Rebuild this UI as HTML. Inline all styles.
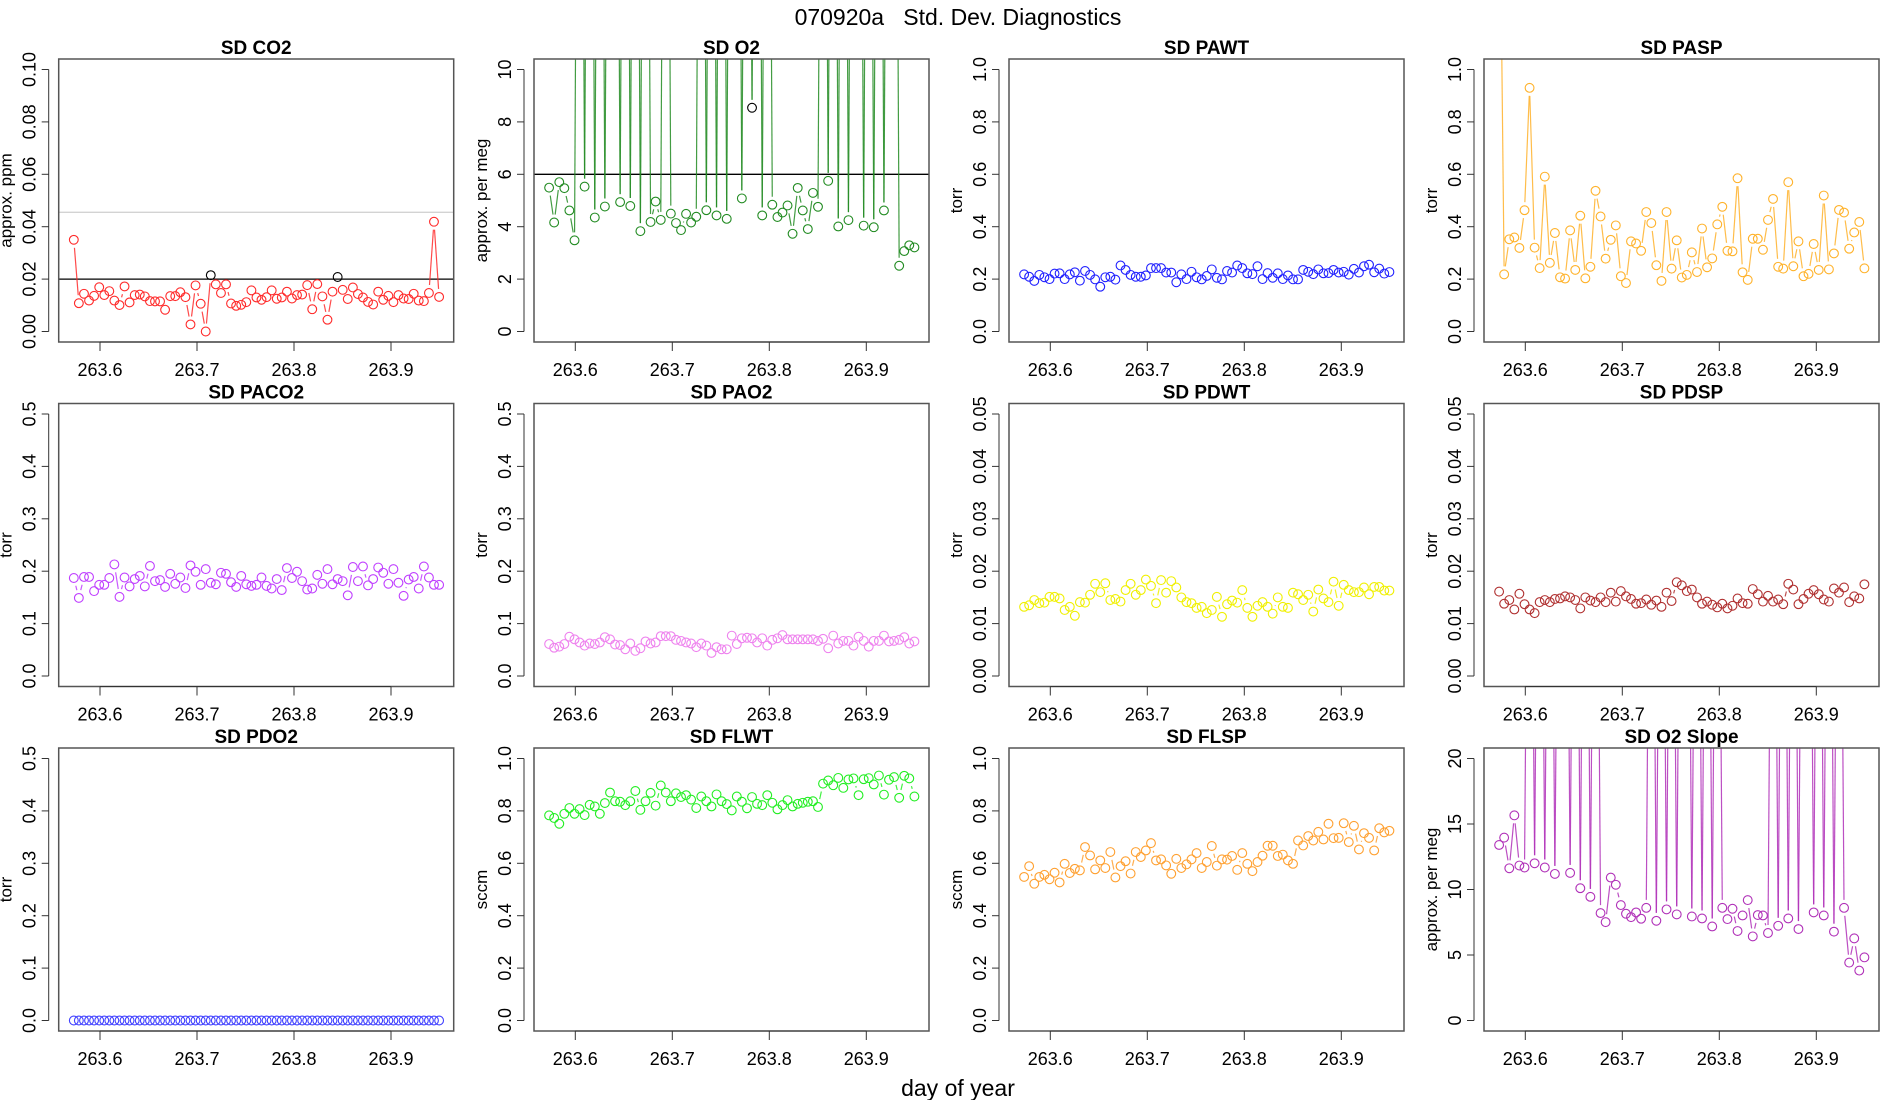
<!DOCTYPE html>
<html><head><meta charset="utf-8"><title>070920a Std. Dev. Diagnostics</title>
<style>
html,body{margin:0;padding:0;background:#fff;}
svg{display:block;font-family:"Liberation Sans",sans-serif;}
</style></head>
<body>
<svg id="chart" width="1900" height="1100" viewBox="0 0 1900 1100" xmlns="http://www.w3.org/2000/svg">
<text x="958" y="25" text-anchor="middle" font-size="23" style="white-space:pre">070920a   Std. Dev. Diagnostics</text>
<text x="958" y="1096" text-anchor="middle" font-size="23">day of year</text>
</svg>
<script>
const times=[263.5730,263.5782,263.5835,263.5887,263.5939,263.5992,263.6044,263.6096,263.6148,263.6201,263.6253,263.6305,263.6358,263.6410,263.6462,263.6515,263.6567,263.6619,263.6671,263.6724,263.6776,263.6828,263.6881,263.6933,263.6985,263.7038,263.7090,263.7142,263.7194,263.7247,263.7299,263.7351,263.7404,263.7456,263.7508,263.7561,263.7613,263.7665,263.7717,263.7770,263.7822,263.7874,263.7927,263.7979,263.8031,263.8084,263.8136,263.8188,263.8240,263.8293,263.8345,263.8397,263.8450,263.8502,263.8554,263.8607,263.8659,263.8711,263.8763,263.8816,263.8868,263.8920,263.8973,263.9025,263.9077,263.9130,263.9182,263.9234,263.9286,263.9339,263.9391,263.9443,263.9496];
const xTicks=[263.6,263.7,263.8,263.9];
const xTickLabels=["263.6","263.7","263.8","263.9"];
const sdCO2=[0.035,0.0108,0.0144,0.0118,0.0136,0.0169,0.0139,0.0154,0.0118,0.0101,0.0172,0.0111,0.0139,0.0141,0.0134,0.0116,0.0115,0.0115,0.0083,0.0135,0.0135,0.015,0.0131,0.0027,0.0176,0.0106,0.0,0.0215,0.018,0.0147,0.018,0.0107,0.0098,0.0102,0.0112,0.0157,0.013,0.0121,0.0131,0.0157,0.0125,0.013,0.0152,0.0126,0.0139,0.0141,0.0177,0.0085,0.0181,0.0134,0.0045,0.0152,0.0208,0.0159,0.0124,0.0168,0.0143,0.013,0.0113,0.0103,0.0152,0.0121,0.0136,0.0112,0.0139,0.0126,0.0124,0.0144,0.0118,0.0116,0.0147,0.0419,0.0132];
const flagCO2=[27,52];
const sdO2=[5.49,4.16,5.70,5.47,4.62,3.48,40,5.53,40,4.35,40,4.77,40,40,4.94,40,4.79,40,3.83,40,4.18,4.96,4.26,40,4.5,4.14,3.87,4.49,4.16,4.38,40,4.63,40,4.43,40,4.3,40,40,5.08,40,8.54,40,4.43,40,4.84,4.37,4.54,4.81,3.73,5.48,4.62,3.91,5.29,4.76,40,5.75,40,4.01,40,4.25,40,40,4.04,40,3.98,40,4.62,40,40,2.51,3.07,3.29,3.21];
const flagO2=[40];
const sdPAWT=[.218,.209,.193,.216,.207,.200,.221,.222,.200,.218,.226,.194,.231,.216,.199,.171,.207,.209,.198,.252,.235,.216,.209,.209,.214,.242,.242,.242,.225,.225,.188,.218,.200,.228,.207,.199,.212,.237,.205,.199,.231,.225,.252,.242,.222,.219,.249,.200,.223,.205,.222,.200,.214,.199,.199,.235,.228,.219,.237,.222,.223,.235,.225,.228,.217,.239,.225,.249,.255,.226,.240,.221,.227];
const sdPASP=[2,0.218,0.352,0.359,0.319,0.463,0.93,0.32,0.242,0.591,0.262,0.376,0.207,0.202,0.386,0.235,0.442,0.203,0.247,0.537,0.439,0.278,0.35,0.405,0.211,0.185,0.344,0.336,0.308,0.456,0.414,0.253,0.193,0.456,0.24,0.348,0.206,0.216,0.302,0.227,0.393,0.245,0.279,0.409,0.476,0.308,0.306,0.585,0.226,0.197,0.354,0.354,0.312,0.426,0.506,0.247,0.24,0.57,0.249,0.344,0.211,0.22,0.334,0.235,0.519,0.237,0.298,0.464,0.454,0.316,0.378,0.418,0.241];
const sdPACO2=[.187,.149,.189,.189,.162,.174,.174,.187,.213,.151,.188,.171,.185,.191,.171,.210,.181,.183,.170,.195,.176,.188,.168,.211,.199,.174,.204,.178,.175,.197,.195,.179,.170,.191,.175,.172,.174,.188,.172,.167,.185,.164,.206,.187,.199,.181,.165,.167,.193,.176,.204,.175,.185,.181,.154,.208,.181,.209,.173,.185,.207,.197,.176,.204,.178,.153,.184,.189,.167,.209,.188,.174,.174];
const sdPAO2=[.061,.054,.056,.061,.075,.070,.064,.058,.062,.061,.064,.074,.070,.060,.059,.051,.062,.048,.053,.066,.062,.064,.076,.076,.076,.069,.067,.064,.062,.055,.062,.058,.044,.055,.051,.051,.077,.061,.072,.073,.072,.064,.072,.058,.069,.072,.078,.070,.070,.070,.070,.070,.070,.067,.071,.053,.077,.062,.067,.067,.058,.075,.067,.056,.067,.067,.077,.066,.067,.069,.074,.062,.066];
const sdPDWT=[.0132,.0135,.0145,.0139,.0140,.0151,.0151,.0148,.0126,.0132,.0115,.0141,.0140,.0155,.0176,.0160,.0177,.0145,.0147,.0142,.0164,.0176,.0155,.0164,.0184,.0172,.0139,.0183,.0159,.0181,.0169,.0150,.0141,.0139,.0130,.0132,.0120,.0126,.0151,.0113,.0137,.0144,.0140,.0164,.0130,.0113,.0134,.0141,.0132,.0119,.0150,.0132,.0130,.0159,.0156,.0145,.0155,.0123,.0165,.0148,.0141,.0180,.0134,.0174,.0164,.0160,.0160,.0169,.0156,.0170,.0170,.0163,.0163];
const sdPDSP=[.0161,.0138,.0145,.0127,.0157,.0137,.0127,.0120,.0141,.0145,.0141,.0147,.0148,.0152,.0150,.0145,.0129,.0150,.0144,.0141,.0150,.0141,.0159,.0142,.0162,.0152,.0147,.0138,.0139,.0146,.0136,.0144,.0132,.0159,.0143,.0179,.0173,.0162,.0165,.0150,.0138,.0142,.0136,.0131,.0138,.0129,.0134,.0148,.0139,.0138,.0166,.0156,.0142,.0153,.0142,.0146,.0137,.0176,.0165,.0137,.0147,.0157,.0164,.0156,.0146,.0142,.0167,.0159,.0169,.0141,.0152,.0148,.0175];
const sdPDO2=[0,0,0,0,0,0,0,0,0,0,0,0,0,0,0,0,0,0,0,0,0,0,0,0,0,0,0,0,0,0,0,0,0,0,0,0,0,0,0,0,0,0,0,0,0,0,0,0,0,0,0,0,0,0,0,0,0,0,0,0,0,0,0,0,0,0,0,0,0,0,0,0,0];
const sdFLWT=[.783,.773,.751,.789,.811,.789,.807,.784,.823,.817,.789,.830,.870,.837,.835,.822,.837,.876,.804,.837,.869,.820,.897,.870,.837,.867,.853,.860,.843,.811,.855,.837,.817,.863,.837,.826,.802,.855,.835,.810,.853,.827,.822,.860,.831,.806,.822,.841,.817,.827,.831,.835,.837,.815,.904,.916,.898,.926,.888,.920,.924,.860,.921,.925,.901,.935,.862,.919,.929,.850,.934,.924,.855];
const sdFLSP=[.548,.589,.522,.548,.556,.539,.564,.527,.598,.563,.579,.573,.662,.630,.577,.611,.582,.643,.546,.589,.608,.561,.643,.624,.649,.677,.611,.615,.592,.560,.617,.582,.596,.615,.639,.582,.605,.666,.591,.615,.614,.628,.575,.639,.598,.570,.605,.629,.667,.667,.628,.633,.611,.598,.687,.668,.704,.687,.720,.691,.751,.696,.697,.753,.681,.743,.653,.715,.697,.649,.734,.718,.724];
const sdO2Slope=[13.4,13.96,11.62,15.66,11.83,11.68,60,12.0,60,11.68,60,11.19,60,60,11.27,60,10.1,60,9.44,60,8.2,7.51,10.91,10.36,8.81,8.15,7.89,8.25,7.77,8.6,60,7.61,60,8.48,60,8.1,60,60,7.94,60,7.79,60,7.18,60,8.6,7.74,8.53,6.83,8.02,9.19,6.42,8.05,8.02,6.68,60,7.23,60,7.79,60,6.98,60,60,8.25,60,8.02,60,6.78,60,8.6,4.42,6.27,3.81,4.82];

const svg=document.getElementById('chart');
const NS='http://www.w3.org/2000/svg';
function mk(tag,attrs,parent){const e=document.createElementNS(NS,tag);for(const k in attrs)e.setAttribute(k,attrs[k]);(parent||svg).appendChild(e);return e;}

const colLeft=[58.7,534,1009,1484], rowTop=[59,403.5,748], PW=395, PH=283;
const panels=[
 {title:'SD CO2',ylab:'approx. ppm',data:sdCO2,col:'#ff2a2a',ymax:0.1,ticks:[0,0.02,0.04,0.06,0.08,0.1],dec:2,hl:[[0.0455,'#d3d3d3'],[0.02,'#000']],flags:flagCO2},
 {title:'SD O2',ylab:'approx. per meg',data:sdO2,col:'#228b22',ymax:10,ticks:[0,2,4,6,8,10],dec:0,hl:[[6,'#000']],flags:flagO2},
 {title:'SD PAWT',ylab:'torr',data:sdPAWT,col:'#2020ff',ymax:1,ticks:[0,0.2,0.4,0.6,0.8,1],dec:1,hl:[],flags:[]},
 {title:'SD PASP',ylab:'torr',data:sdPASP,col:'#ffb22a',ymax:1,ticks:[0,0.2,0.4,0.6,0.8,1],dec:1,hl:[],flags:[]},
 {title:'SD PACO2',ylab:'torr',data:sdPACO2,col:'#bf3eff',ymax:0.5,ticks:[0,0.1,0.2,0.3,0.4,0.5],dec:1,hl:[],flags:[]},
 {title:'SD PAO2',ylab:'torr',data:sdPAO2,col:'#ee82ee',ymax:0.5,ticks:[0,0.1,0.2,0.3,0.4,0.5],dec:1,hl:[],flags:[]},
 {title:'SD PDWT',ylab:'torr',data:sdPDWT,col:'#f0f000',ymax:0.05,ticks:[0,0.01,0.02,0.03,0.04,0.05],dec:2,hl:[],flags:[]},
 {title:'SD PDSP',ylab:'torr',data:sdPDSP,col:'#b03030',ymax:0.05,ticks:[0,0.01,0.02,0.03,0.04,0.05],dec:2,hl:[],flags:[]},
 {title:'SD PDO2',ylab:'torr',data:sdPDO2,col:'#4040ff',ymax:0.5,ticks:[0,0.1,0.2,0.3,0.4,0.5],dec:1,hl:[],flags:[]},
 {title:'SD FLWT',ylab:'sccm',data:sdFLWT,col:'#22ee22',ymax:1,ticks:[0,0.2,0.4,0.6,0.8,1],dec:1,hl:[],flags:[]},
 {title:'SD FLSP',ylab:'sccm',data:sdFLSP,col:'#ffa030',ymax:1,ticks:[0,0.2,0.4,0.6,0.8,1],dec:1,hl:[],flags:[]},
 {title:'SD O2 Slope',ylab:'approx. per meg',data:sdO2Slope,col:'#b030b8',ymax:20,ticks:[0,5,10,15,20],dec:0,hl:[],flags:[]}
];
const defs=mk('defs',{});
panels.forEach((p,pi)=>{
  const L=colLeft[pi%4], T=rowTop[Math.floor(pi/4)];
  const g=mk('g',{});
  
  
  const xs=t=>L+41.3+(t-263.6)*970;
  const ys=v=>T+PH-10.5-v/p.ymax*(PH-21);
  const cp=mk('clipPath',{id:'clip'+pi},defs);
  mk('rect',{x:L,y:T,width:PW,height:PH},cp);
  const tt=mk('text',{x:L+PW/2,y:T-5,'text-anchor':'middle','font-size':19,'font-weight':'bold'},g);
  tt.textContent=p.title;
  
  
  p.hl.forEach(h=>{
    const ln=mk('line',{x1:L,x2:L+PW,y1:ys(h[0]),y2:ys(h[0]),stroke:h[1],'stroke-width':1.3},g);
    
    
  });
  const sg=mk('g',{'clip-path':'url(#clip'+pi+')'},g);
  
  
  const gap=8;
  for(let i=0;i<p.data.length-1;i++){
    const x1=xs(times[i]),y1=ys(p.data[i]),x2=xs(times[i+1]),y2=ys(p.data[i+1]);
    const dx=x2-x1,dy=y2-y1,d=Math.hypot(dx,dy);
    if(d<=2*gap+1)continue;
    const ux=dx/d,uy=dy/d;
    const seg=mk('line',{x1:x1+ux*gap,y1:y1+uy*gap,x2:x2-ux*gap,y2:y2-uy*gap,stroke:p.col,'stroke-width':1.2,'stroke-opacity':0.85},sg);
    
    
  }
  for(let i=0;i<p.data.length;i++){
    const c=mk('circle',{cx:xs(times[i]),cy:ys(p.data[i]),r:4.4,fill:'none',stroke:p.flags.includes(i)?'#000':p.col,'stroke-width':1.1},sg);
    
    
  }
  const bx=mk('rect',{x:L,y:T,width:PW,height:PH,fill:'none',stroke:'#555','stroke-width':1.5},g);
  
  
  const ya=mk('g',{},g);
  
  
  mk('line',{x1:L-10,x2:L-10,y1:ys(p.ticks[0]),y2:ys(p.ticks[p.ticks.length-1]),stroke:'#333','stroke-width':1},ya);
  p.ticks.forEach(v=>{
    const y=ys(v);
    mk('line',{x1:L-17,x2:L-10,y1:y,y2:y,stroke:'#333','stroke-width':1},ya);
    const lb=mk('text',{x:L-23,y:y,'text-anchor':'middle','font-size':18,transform:'rotate(-90 '+(L-23)+' '+y+')'},ya);
    lb.textContent=v.toFixed(p.dec);
    
    
  });
  const yl=mk('text',{x:L-47,y:T+PH/2,'text-anchor':'middle','font-size':17,transform:'rotate(-90 '+(L-47)+' '+(T+PH/2)+')'},g);
  yl.textContent=p.ylab;
  
  
  const xa=mk('g',{},g);
  
  
  mk('line',{x1:xs(xTicks[0]),x2:xs(xTicks[xTicks.length-1]),y1:T+PH,y2:T+PH,stroke:'#333','stroke-width':1},xa);
  xTicks.forEach((t,k)=>{
    const x=xs(t);
    mk('line',{x1:x,x2:x,y1:T+PH,y2:T+PH+9,stroke:'#333','stroke-width':1},xa);
    const lb=mk('text',{x:x,y:T+PH+34,'text-anchor':'middle','font-size':18},xa);
    lb.textContent=xTickLabels[k];
    
    
  });
});
</script>
</body></html>
